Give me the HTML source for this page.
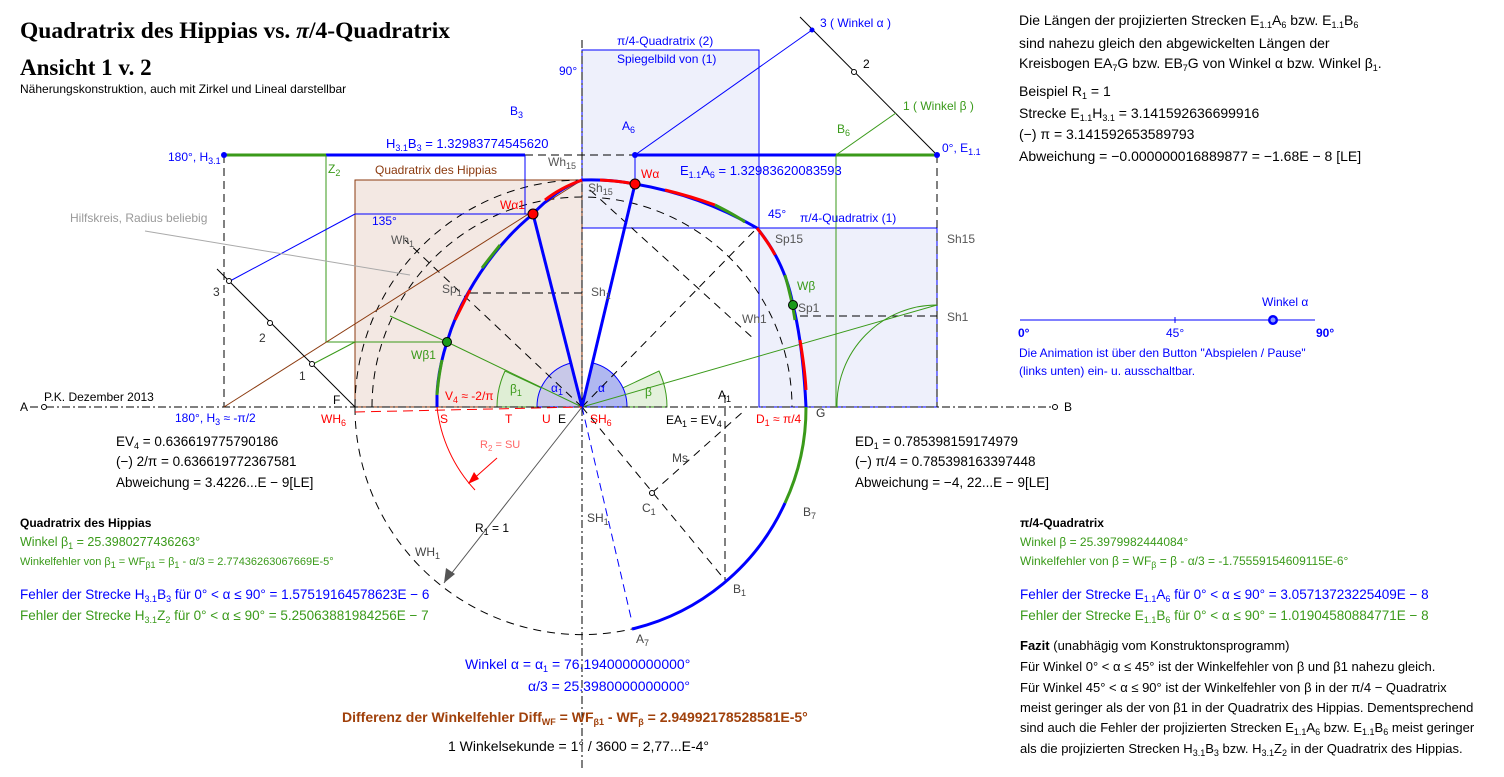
<!DOCTYPE html>
<html><head><meta charset="utf-8"><style>
body{margin:0;background:#fff;}
svg{display:block;font-family:"Liberation Sans",sans-serif;}
.t{font-size:12px}
.m{font-size:13.5px}
.r{font-size:14px}
.f{font-size:13px}
</style></head><body>
<svg width="1504" height="777" viewBox="0 0 1504 777" xmlns="http://www.w3.org/2000/svg">
<rect x="582" y="50" width="177" height="178" fill="#eef0fb" stroke="#0000ff" stroke-width="1"/>
<rect x="759" y="228" width="178" height="179" fill="#eef0fb" stroke="#0000ff" stroke-width="1"/>
<line x1="582" y1="228" x2="937" y2="228" stroke="#00f"/>
<rect x="355" y="180" width="227" height="227" fill="#f3e8e3" stroke="#8b3a0f" stroke-width="1"/>
<path d="M582,407 L497,407 A85,85 0 0 1 505,371 Z" fill="#dfeed5" stroke="#3a9a1a"/>
<path d="M582,407 L667,407 A85,85 0 0 0 659,371 Z" fill="#e4f1dc" stroke="#3a9a1a"/>
<path d="M582,407 L537,407 A45,45 0 0 1 571,363 Z" fill="#c8c8e8" stroke="#00f"/>
<path d="M582,407 L627,407 A45,45 0 0 0 593,363 Z" fill="#b0b8f0" stroke="#00f"/>
<line x1="30" y1="407" x2="1058" y2="407" stroke="#000" stroke-dasharray="8,3,2,3"/>
<line x1="582" y1="40" x2="582" y2="770" stroke="#000" stroke-dasharray="8,3,2,3"/>
<line x1="224" y1="155" x2="224" y2="407" stroke="#000" stroke-dasharray="8,5"/>
<line x1="937" y1="155" x2="937" y2="407" stroke="#000" stroke-dasharray="8,5"/>
<line x1="725" y1="395" x2="725" y2="580" stroke="#000" stroke-dasharray="8,5"/>
<line x1="525" y1="155" x2="635" y2="155" stroke="#000" stroke-dasharray="8,5"/>
<line x1="470" y1="293" x2="582" y2="293" stroke="#000" stroke-dasharray="8,5"/>
<line x1="800" y1="316" x2="937" y2="316" stroke="#000" stroke-dasharray="8,5"/>
<path d="M355,407 A227,227 0 0 1 582,180" fill="none" stroke="#000" stroke-dasharray="8,6"/>
<path d="M355,407 A227,227 0 0 0 632,629" fill="none" stroke="#000" stroke-dasharray="8,6"/>
<path d="M372,407 A210,210 0 0 1 792,407" fill="none" stroke="#000" stroke-dasharray="8,6"/>
<line x1="582" y1="407" x2="405" y2="240" stroke="#000" stroke-dasharray="8,6"/>
<line x1="582" y1="407" x2="757" y2="228" stroke="#000" stroke-dasharray="8,6"/>
<line x1="582" y1="407" x2="725" y2="580" stroke="#000" stroke-dasharray="8,6"/>
<line x1="652" y1="493" x2="745" y2="410" stroke="#000" stroke-dasharray="8,6"/>
<line x1="590" y1="190" x2="755" y2="340" stroke="#000" stroke-dasharray="8,6"/>
<line x1="224" y1="155" x2="326" y2="155" stroke="#3a9a1a" stroke-width="3"/>
<line x1="326" y1="155" x2="525" y2="155" stroke="#00f" stroke-width="3"/>
<line x1="326" y1="155" x2="326" y2="342" stroke="#3a9a1a"/>
<line x1="326" y1="342" x2="447" y2="342" stroke="#3a9a1a"/>
<line x1="313" y1="364" x2="355" y2="342" stroke="#3a9a1a"/>
<line x1="230" y1="281" x2="355" y2="214" stroke="#00f"/>
<line x1="355" y1="214" x2="533" y2="214" stroke="#00f"/>
<line x1="525" y1="155" x2="525" y2="214" stroke="#00f"/>
<line x1="224" y1="407" x2="582" y2="180" stroke="#8b3a0f"/>
<line x1="217" y1="269" x2="355" y2="407" stroke="#000"/>
<line x1="145" y1="231" x2="410" y2="275" stroke="#aaa"/>
<line x1="390" y1="316" x2="447" y2="342" stroke="#3a9a1a"/>
<line x1="447" y1="342" x2="582" y2="407" stroke="#3a9a1a"/>
<line x1="635" y1="155" x2="836" y2="155" stroke="#00f" stroke-width="3"/>
<line x1="836" y1="155" x2="937" y2="155" stroke="#3a9a1a" stroke-width="3"/>
<line x1="836" y1="155" x2="836" y2="407" stroke="#3a9a1a"/>
<line x1="800" y1="17" x2="937" y2="155" stroke="#000"/>
<line x1="635" y1="155" x2="812" y2="30" stroke="#00f"/>
<line x1="836" y1="155" x2="896" y2="113" stroke="#3a9a1a"/>
<line x1="635" y1="155" x2="635" y2="184" stroke="#00f"/>
<line x1="582" y1="407" x2="937" y2="305" stroke="#3a9a1a"/>
<path d="M937,305 A100,100 0 0 0 837,407" fill="none" stroke="#3a9a1a"/>
<path d="M437,407 L437,395 Q438,370 447,342 Q455,315 468,293 Q495,245 533,214 Q555,190 582,180 Q610,179 635,184 Q700,195 757,228 Q785,262 793,305 Q803,345 806,407" fill="none" stroke="#00f" stroke-width="3"/>
<path d="M437,395 Q438,380 442,360" fill="none" stroke="#3a9a1a" stroke-width="3"/>
<path d="M455,320 Q465,300 470,290" fill="none" stroke="#f00" stroke-width="3"/>
<path d="M482,268 Q492,255 500,245" fill="none" stroke="#3a9a1a" stroke-width="3"/>
<path d="M545,200 Q560,188 582,180" fill="none" stroke="#f00" stroke-width="3"/>
<path d="M600,180 Q620,181 635,184" fill="none" stroke="#f00" stroke-width="3"/>
<path d="M665,190 Q690,196 715,205" fill="none" stroke="#f00" stroke-width="3"/>
<path d="M715,205 Q735,215 745,222" fill="none" stroke="#3a9a1a" stroke-width="3"/>
<path d="M757,228 Q770,245 775,255" fill="none" stroke="#f00" stroke-width="3"/>
<path d="M785,275 Q792,300 795,320" fill="none" stroke="#3a9a1a" stroke-width="3"/>
<path d="M800,340 Q805,370 806,390" fill="none" stroke="#f00" stroke-width="3"/>
<path d="M806,407 A225,225 0 0 1 785,503" fill="none" stroke="#3a9a1a" stroke-width="3"/>
<path d="M785,503 A225,225 0 0 1 632,629" fill="none" stroke="#00f" stroke-width="3"/>
<line x1="582" y1="407" x2="635" y2="184" stroke="#00f" stroke-width="3"/>
<line x1="582" y1="407" x2="533" y2="214" stroke="#00f" stroke-width="3"/>
<line x1="582" y1="407" x2="632" y2="622" stroke="#00f" stroke-dasharray="8,5"/>
<line x1="582" y1="407" x2="444" y2="583" stroke="#555"/>
<polygon points="444,583 446,568 455,574" fill="#555"/>
<line x1="355" y1="412" x2="582" y2="407" stroke="#f00" stroke-dasharray="10,6"/>
<path d="M437,407 A145,145 0 0 0 475,490" fill="none" stroke="#f00"/>
<line x1="497" y1="458" x2="470" y2="482" stroke="#f00"/>
<polygon points="468,484 474,472 479,479" fill="#f00"/>
<g fill="#f00" stroke="#000"><circle cx="635" cy="184" r="5"/><circle cx="533" cy="214" r="5"/></g>
<g fill="#1a9a1a" stroke="#000"><circle cx="447" cy="342" r="4.5"/><circle cx="793" cy="305" r="4.5"/></g>
<g fill="#fff" stroke="#000" stroke-width="1"><circle cx="229" cy="281" r="2.5"/><circle cx="270" cy="323" r="2.5"/><circle cx="312" cy="364" r="2.5"/><circle cx="854" cy="72" r="2.5"/><circle cx="652" cy="493" r="2.5"/><circle cx="44" cy="407" r="2.5"/><circle cx="1055" cy="407" r="2.5"/></g>
<g fill="#00f"><circle cx="224" cy="155" r="3"/><circle cx="937" cy="155" r="3"/><circle cx="635" cy="155" r="3"/><circle cx="812" cy="30" r="2.5"/></g>
<line x1="1020" y1="320" x2="1315" y2="320" stroke="#00f"/>
<circle cx="1273" cy="320" r="5" fill="#00f"/><circle cx="1273" cy="320" r="2.5" fill="#8899ff"/>
<line x1="1175" y1="317" x2="1175" y2="323" stroke="#00f"/>
<text x="20" y="38" font-family="Liberation Serif,serif" font-size="23.5" font-weight="bold">Quadratrix des Hippias vs. <tspan font-style="italic">π</tspan>/4-Quadratrix</text>
<text x="20" y="75" font-family="Liberation Serif,serif" font-size="23" font-weight="bold">Ansicht 1 v. 2</text>
<text x="20" y="93" font-size="12">Näherungskonstruktion, auch mit Zirkel und Lineal darstellbar</text>
<g class="t">
<text x="168" y="161" fill="#00f">180°, H<tspan font-size="9" dy="3">3.1</tspan></text>
<text x="328" y="173" fill="#3a9a1a">Z<tspan font-size="9" dy="3">2</tspan></text>
<text x="375" y="174" fill="#8b3a0f">Quadratrix des Hippias</text>
<text x="386" y="148" fill="#00f" class="f">H<tspan font-size="9" dy="3">3.1</tspan><tspan dy="-3">B</tspan><tspan font-size="9" dy="3">3</tspan><tspan dy="-3"> = 1.32983774545620</tspan></text>
<text x="510" y="115" fill="#00f">B<tspan font-size="9" dy="3">3</tspan></text>
<text x="70" y="222" fill="#999">Hilfskreis, Radius beliebig</text>
<text x="372" y="225" fill="#00f">135°</text>
<text x="391" y="244" fill="#555">Wh<tspan font-size="9" dy="3">1</tspan></text>
<text x="442" y="293" fill="#555">Sp<tspan font-size="9" dy="3">1</tspan></text>
<text x="411" y="359" fill="#3a9a1a">Wβ1</text>
<text x="500" y="209" fill="#f00">Wα1</text>
<text x="548" y="166" fill="#555">Wh<tspan font-size="9" dy="3">15</tspan></text>
<text x="588" y="192" fill="#555">Sh<tspan font-size="9" dy="3">15</tspan></text>
<text x="591" y="296" fill="#555">Sh<tspan font-size="9" dy="3">1</tspan></text>
<text x="641" y="178" fill="#f00">Wα</text>
<text x="680" y="175" fill="#00f" class="f">E<tspan font-size="9" dy="3">1.1</tspan><tspan dy="-3">A</tspan><tspan font-size="9" dy="3">6</tspan><tspan dy="-3"> = 1.32983620083593</tspan></text>
<text x="622" y="130" fill="#00f">A<tspan font-size="9" dy="3">6</tspan></text>
<text x="837" y="133" fill="#3a9a1a">B<tspan font-size="9" dy="3">6</tspan></text>
<text x="617" y="45" fill="#00f">π/4-Quadratrix (2)</text>
<text x="617" y="63" fill="#00f">Spiegelbild von (1)</text>
<text x="559" y="75" fill="#00f">90°</text>
<text x="820" y="27" fill="#00f">3  ( Winkel α )</text>
<text x="863" y="68">2</text>
<text x="903" y="110" fill="#3a9a1a">1  ( Winkel β )</text>
<text x="942" y="152" fill="#00f">0°, E<tspan font-size="9" dy="3">1.1</tspan></text>
<text x="768" y="218" fill="#00f">45°</text>
<text x="800" y="222" fill="#00f">π/4-Quadratrix (1)</text>
<text x="775" y="243" fill="#555">Sp15</text>
<text x="947" y="243" fill="#555">Sh15</text>
<text x="797" y="290" fill="#3a9a1a">Wβ</text>
<text x="798" y="312" fill="#555">Sp1</text>
<text x="742" y="323" fill="#555">Wh1</text>
<text x="947" y="321" fill="#555">Sh1</text>
<text x="213" y="296" fill="#333">3</text>
<text x="259" y="342" fill="#333">2</text>
<text x="299" y="380" fill="#333">1</text>
<text x="20" y="411">A</text>
<text x="44" y="401">P.K. Dezember 2013</text>
<text x="1064" y="411">B</text>
<text x="333" y="404">F</text>
<text x="510" y="393" fill="#3a9a1a">β<tspan font-size="9" dy="3">1</tspan></text>
<text x="551" y="392" fill="#00f">α<tspan font-size="9" dy="3">1</tspan></text>
<text x="598" y="392" fill="#00f">α</text>
<text x="645" y="396" fill="#3a9a1a">β</text>
<text x="445" y="400" fill="#f00">V<tspan font-size="9" dy="3">4</tspan><tspan dy="-3"> ≈ -2/π</tspan></text>
<text x="718" y="399">A<tspan font-size="9" dy="3">1</tspan></text>
<text x="175" y="422" fill="#00f">180°, H<tspan font-size="9" dy="3">3</tspan><tspan dy="-3"> ≈ -π/2</tspan></text>
<text x="321" y="423" fill="#f00">WH<tspan font-size="9" dy="3">6</tspan></text>
<text x="440" y="423" fill="#f00">S</text>
<text x="505" y="423" fill="#f00">T</text>
<text x="542" y="423" fill="#f00">U</text>
<text x="558" y="423">E</text>
<text x="590" y="423" fill="#f00">SH<tspan font-size="9" dy="3">6</tspan></text>
<text x="666" y="424">EA<tspan font-size="9" dy="3">1</tspan><tspan dy="-3"> = EV</tspan><tspan font-size="9" dy="3">4</tspan></text>
<text x="756" y="423" fill="#f00">D<tspan font-size="9" dy="3">1</tspan><tspan dy="-3"> ≈ π/4</tspan></text>
<text x="816" y="417" fill="#333">G</text>
<text x="480" y="448" fill="#f66" font-size="11">R<tspan font-size="8" dy="3">2</tspan><tspan dy="-3"> = SU</tspan></text>
<text x="672" y="462" fill="#444">Ms</text>
<text x="642" y="512" fill="#444">C<tspan font-size="9" dy="3">1</tspan></text>
<text x="587" y="522" fill="#444">SH<tspan font-size="9" dy="3">1</tspan></text>
<text x="475" y="532">R<tspan font-size="9" dy="3">1</tspan><tspan dy="-3"> = 1</tspan></text>
<text x="803" y="516" fill="#444">B<tspan font-size="9" dy="3">7</tspan></text>
<text x="415" y="556" fill="#444">WH<tspan font-size="9" dy="3">1</tspan></text>
<text x="733" y="593" fill="#444">B<tspan font-size="9" dy="3">1</tspan></text>
<text x="636" y="643" fill="#444">A<tspan font-size="9" dy="3">7</tspan></text>
<text x="116" y="446" class="m">EV<tspan font-size="9" dy="3">4</tspan><tspan dy="-3"> = 0.636619775790186</tspan></text>
<text x="116" y="466" class="m">(−)  2/π = 0.636619772367581</text>
<text x="116" y="487" class="m">Abweichung = 3.4226...E − 9[LE]</text>
<text x="855" y="446" class="m">ED<tspan font-size="9" dy="3">1</tspan><tspan dy="-3"> = 0.785398159174979</tspan></text>
<text x="855" y="466" class="m">(−) π/4 = 0.785398163397448</text>
<text x="855" y="487" class="m">Abweichung = −4, 22...E − 9[LE]</text>
<text x="20" y="527" font-weight="bold">Quadratrix des Hippias</text>
<text x="20" y="546" fill="#3a9a1a" font-size="12.5">Winkel β<tspan font-size="9" dy="3">1</tspan><tspan dy="-3"> = 25.3980277436263°</tspan></text>
<text x="20" y="565" fill="#3a9a1a" font-size="11">Winkelfehler von β<tspan font-size="9" dy="3">1</tspan><tspan dy="-3"> = WF</tspan><tspan font-size="9" dy="3">β1</tspan><tspan dy="-3"> = β</tspan><tspan font-size="9" dy="3">1</tspan><tspan dy="-3"> - α/3 = 2.77436263067669E-5°</tspan></text>
<text x="20" y="599" fill="#00f" class="m">Fehler der Strecke H<tspan font-size="9" dy="3">3.1</tspan><tspan dy="-3">B</tspan><tspan font-size="9" dy="3">3</tspan><tspan dy="-3"> für 0° &lt; α ≤ 90° = 1.57519164578623E − 6</tspan></text>
<text x="20" y="620" fill="#3a9a1a" class="m">Fehler der Strecke H<tspan font-size="9" dy="3">3.1</tspan><tspan dy="-3">Z</tspan><tspan font-size="9" dy="3">2</tspan><tspan dy="-3"> für 0° &lt; α ≤ 90° = 5.25063881984256E − 7</tspan></text>
<text x="465" y="669" fill="#00f" class="r">Winkel α = α<tspan font-size="9" dy="3">1</tspan><tspan dy="-3"> = 76.1940000000000°</tspan></text>
<text x="528" y="691" fill="#00f" class="r">α/3 = 25.3980000000000°</text>
<text x="342" y="722" fill="#a0400a" font-weight="bold" class="r">Differenz der Winkelfehler Diff<tspan font-size="9" dy="3">WF</tspan><tspan dy="-3"> = WF</tspan><tspan font-size="9" dy="3">β1</tspan><tspan dy="-3"> - WF</tspan><tspan font-size="9" dy="3">β</tspan><tspan dy="-3"> = 2.94992178528581E-5°</tspan></text>
<text x="448" y="751" class="r">1 Winkelsekunde = 1° / 3600 =  2,77...E-4°</text>
<g class="r">
<text x="1019" y="25">Die Längen der projizierten Strecken E<tspan font-size="9" dy="3">1.1</tspan><tspan dy="-3">A</tspan><tspan font-size="9" dy="3">6</tspan><tspan dy="-3"> bzw. E</tspan><tspan font-size="9" dy="3">1.1</tspan><tspan dy="-3">B</tspan><tspan font-size="9" dy="3">6</tspan></text>
<text x="1019" y="48">sind nahezu gleich den abgewickelten Längen der</text>
<text x="1019" y="68">Kreisbogen EA<tspan font-size="9" dy="3">7</tspan><tspan dy="-3">G bzw. EB</tspan><tspan font-size="9" dy="3">7</tspan><tspan dy="-3">G von Winkel α bzw. Winkel β</tspan><tspan font-size="9" dy="3">1</tspan><tspan dy="-3">.</tspan></text>
<text x="1019" y="96">Beispiel R<tspan font-size="9" dy="3">1</tspan><tspan dy="-3"> = 1</tspan></text>
<text x="1019" y="118">Strecke E<tspan font-size="9" dy="3">1.1</tspan><tspan dy="-3">H</tspan><tspan font-size="9" dy="3">3.1</tspan><tspan dy="-3"> = 3.141592636699916</tspan></text>
<text x="1019" y="139">(−) π = 3.141592653589793</text>
<text x="1019" y="161">Abweichung = −0.000000016889877 = −1.68E − 8 [LE]</text>
</g>
<text x="1262" y="306" fill="#00f">Winkel α</text>
<text x="1018" y="337" fill="#00f" font-weight="bold">0°</text>
<text x="1166" y="337" fill="#00f">45°</text>
<text x="1316" y="337" fill="#00f" font-weight="bold">90°</text>
<text x="1019" y="357" fill="#00f">Die Animation ist über den Button "Abspielen / Pause"</text>
<text x="1019" y="375" fill="#00f">(links unten) ein- u. ausschaltbar.</text>
<text x="1020" y="527" font-weight="bold">π/4-Quadratrix</text>
<text x="1020" y="546" fill="#3a9a1a">Winkel β = 25.3979982444084°</text>
<text x="1020" y="565" fill="#3a9a1a">Winkelfehler von β = WF<tspan font-size="9" dy="3">β</tspan><tspan dy="-3"> = β - α/3 =  -1.75559154609115E-6°</tspan></text>
<text x="1020" y="599" fill="#00f" class="m">Fehler der Strecke E<tspan font-size="9" dy="3">1.1</tspan><tspan dy="-3">A</tspan><tspan font-size="9" dy="3">6</tspan><tspan dy="-3"> für 0° &lt; α ≤ 90° = 3.05713723225409E − 8</tspan></text>
<text x="1020" y="620" fill="#3a9a1a" class="m">Fehler der Strecke E<tspan font-size="9" dy="3">1.1</tspan><tspan dy="-3">B</tspan><tspan font-size="9" dy="3">6</tspan><tspan dy="-3"> für 0° &lt; α ≤ 90° = 1.01904580884771E − 8</tspan></text>
<g class="f">
<text x="1020" y="650"><tspan font-weight="bold">Fazit</tspan>  (unabhägig vom Konstruktonsprogramm)</text>
<text x="1020" y="671">Für Winkel 0° &lt; α ≤ 45° ist der Winkelfehler von β und β1 nahezu gleich.</text>
<text x="1020" y="692">Für Winkel 45° &lt; α ≤ 90° ist der Winkelfehler von β in der π/4 − Quadratrix</text>
<text x="1020" y="712">meist geringer als der von β1 in der Quadratrix des Hippias. Dementsprechend</text>
<text x="1020" y="732">sind auch die Fehler der projizierten Strecken E<tspan font-size="9" dy="3">1.1</tspan><tspan dy="-3">A</tspan><tspan font-size="9" dy="3">6</tspan><tspan dy="-3"> bzw. E</tspan><tspan font-size="9" dy="3">1.1</tspan><tspan dy="-3">B</tspan><tspan font-size="9" dy="3">6</tspan><tspan dy="-3"> meist geringer</tspan></text>
<text x="1020" y="753">als die projizierten Strecken H<tspan font-size="9" dy="3">3.1</tspan><tspan dy="-3">B</tspan><tspan font-size="9" dy="3">3</tspan><tspan dy="-3"> bzw. H</tspan><tspan font-size="9" dy="3">3.1</tspan><tspan dy="-3">Z</tspan><tspan font-size="9" dy="3">2</tspan><tspan dy="-3"> in der Quadratrix des Hippias.</tspan></text>
</g>
</g>
</svg>
</body></html>
